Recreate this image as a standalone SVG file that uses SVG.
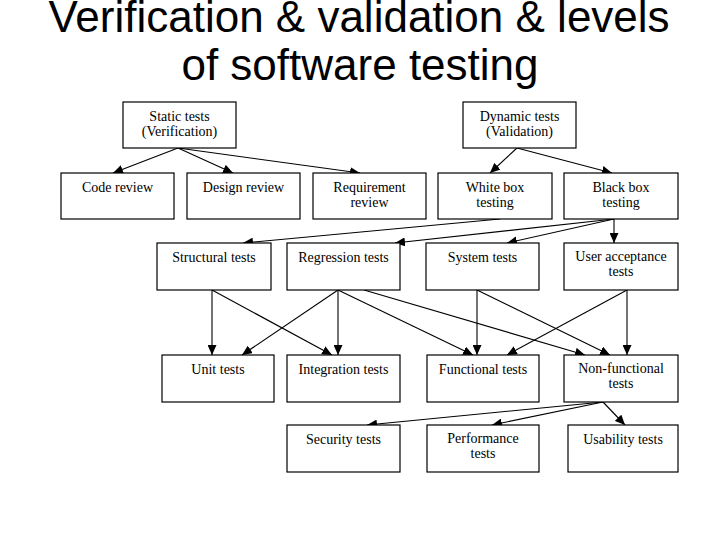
<svg xmlns="http://www.w3.org/2000/svg" width="720" height="540" viewBox="0 0 720 540">
<style>
.box{fill:#fff;stroke:#000;stroke-width:1.2}
.lbl{font-family:"Liberation Serif","Times New Roman",serif;font-size:14px;fill:#000;text-anchor:middle}
.title{font-family:"Liberation Sans",Arial,sans-serif;font-size:44px;fill:#000;text-anchor:middle}
.con line{stroke:#000;stroke-width:1.1;marker-end:url(#ah)}
</style>
<defs>
<marker id="ah" markerUnits="userSpaceOnUse" markerWidth="10" markerHeight="9" refX="10" refY="4.5" orient="auto">
<path d="M0,0 L10,4.5 L0,9 z" fill="#000"/>
</marker>
</defs>
<rect width="720" height="540" fill="#fff"/>
<g id="title">
<text class="title" x="359" y="32">Verification &amp; validation &amp; levels</text>
<text class="title" x="360" y="80">of software testing</text>
</g>
<g class="con" id="connectors">
<line x1="178" y1="148" x2="113" y2="173"/>
<line x1="178" y1="148" x2="233" y2="173"/>
<line x1="178" y1="148" x2="360" y2="173"/>
<line x1="517" y1="148" x2="490" y2="173"/>
<line x1="517" y1="148" x2="612" y2="173"/>
<line x1="500" y1="219" x2="243" y2="243"/>
<line x1="614" y1="219" x2="395" y2="243"/>
<line x1="614" y1="219" x2="507" y2="243"/>
<line x1="614" y1="219" x2="614" y2="243"/>
<line x1="212" y1="290" x2="212" y2="355"/>
<line x1="212" y1="290" x2="332" y2="355"/>
<line x1="338" y1="290" x2="338" y2="355"/>
<line x1="338" y1="290" x2="242" y2="355"/>
<line x1="338" y1="290" x2="473" y2="355"/>
<line x1="364" y1="290" x2="585" y2="355"/>
<line x1="477" y1="290" x2="477" y2="355"/>
<line x1="477" y1="290" x2="610" y2="355"/>
<line x1="627" y1="290" x2="627" y2="355"/>
<line x1="627" y1="290" x2="507" y2="355"/>
<line x1="603" y1="402" x2="367" y2="425"/>
<line x1="603" y1="402" x2="492" y2="425"/>
<line x1="603" y1="402" x2="625" y2="425"/>
</g>
<g id="static"><rect class="box" x="123" y="102" width="113" height="46"/><text class="lbl" x="179.5" y="121">Static tests</text><text class="lbl" x="179.5" y="136">(Verification)</text></g>
<g id="dynamic"><rect class="box" x="463" y="102" width="113" height="46"/><text class="lbl" x="519.5" y="121">Dynamic tests</text><text class="lbl" x="519.5" y="136">(Validation)</text></g>
<g id="code"><rect class="box" x="61" y="173" width="113" height="46"/><text class="lbl" x="117.5" y="192">Code review</text></g>
<g id="design"><rect class="box" x="187" y="173" width="113" height="46"/><text class="lbl" x="243.5" y="192">Design review</text></g>
<g id="requirement"><rect class="box" x="313" y="173" width="113" height="46"/><text class="lbl" x="369.5" y="192">Requirement</text><text class="lbl" x="369.5" y="207">review</text></g>
<g id="white"><rect class="box" x="438" y="173" width="114" height="46"/><text class="lbl" x="495" y="192">White box</text><text class="lbl" x="495" y="207">testing</text></g>
<g id="black"><rect class="box" x="564" y="173" width="114" height="46"/><text class="lbl" x="621" y="192">Black box</text><text class="lbl" x="621" y="207">testing</text></g>
<g id="structural"><rect class="box" x="157" y="243" width="114" height="47"/><text class="lbl" x="214" y="262">Structural tests</text></g>
<g id="regression"><rect class="box" x="287" y="243" width="113" height="47"/><text class="lbl" x="343.5" y="262">Regression tests</text></g>
<g id="system"><rect class="box" x="426" y="243" width="113" height="47"/><text class="lbl" x="482.5" y="262">System tests</text></g>
<g id="uat"><rect class="box" x="564" y="243" width="114" height="47"/><text class="lbl" x="621" y="261">User acceptance</text><text class="lbl" x="621" y="276">tests</text></g>
<g id="unit"><rect class="box" x="162" y="355" width="112" height="47"/><text class="lbl" x="218" y="374">Unit tests</text></g>
<g id="integration"><rect class="box" x="287" y="355" width="113" height="47"/><text class="lbl" x="343.5" y="374">Integration tests</text></g>
<g id="functional"><rect class="box" x="427" y="355" width="112" height="47"/><text class="lbl" x="483" y="374">Functional tests</text></g>
<g id="nonfunctional"><rect class="box" x="564" y="355" width="114" height="47"/><text class="lbl" x="621" y="373">Non-functional</text><text class="lbl" x="621" y="388">tests</text></g>
<g id="security"><rect class="box" x="287" y="425" width="113" height="47"/><text class="lbl" x="343.5" y="444">Security tests</text></g>
<g id="performance"><rect class="box" x="427" y="425" width="112" height="47"/><text class="lbl" x="483" y="443">Performance</text><text class="lbl" x="483" y="458">tests</text></g>
<g id="usability"><rect class="box" x="568" y="425" width="110" height="47"/><text class="lbl" x="623" y="444">Usability tests</text></g>
</svg>
